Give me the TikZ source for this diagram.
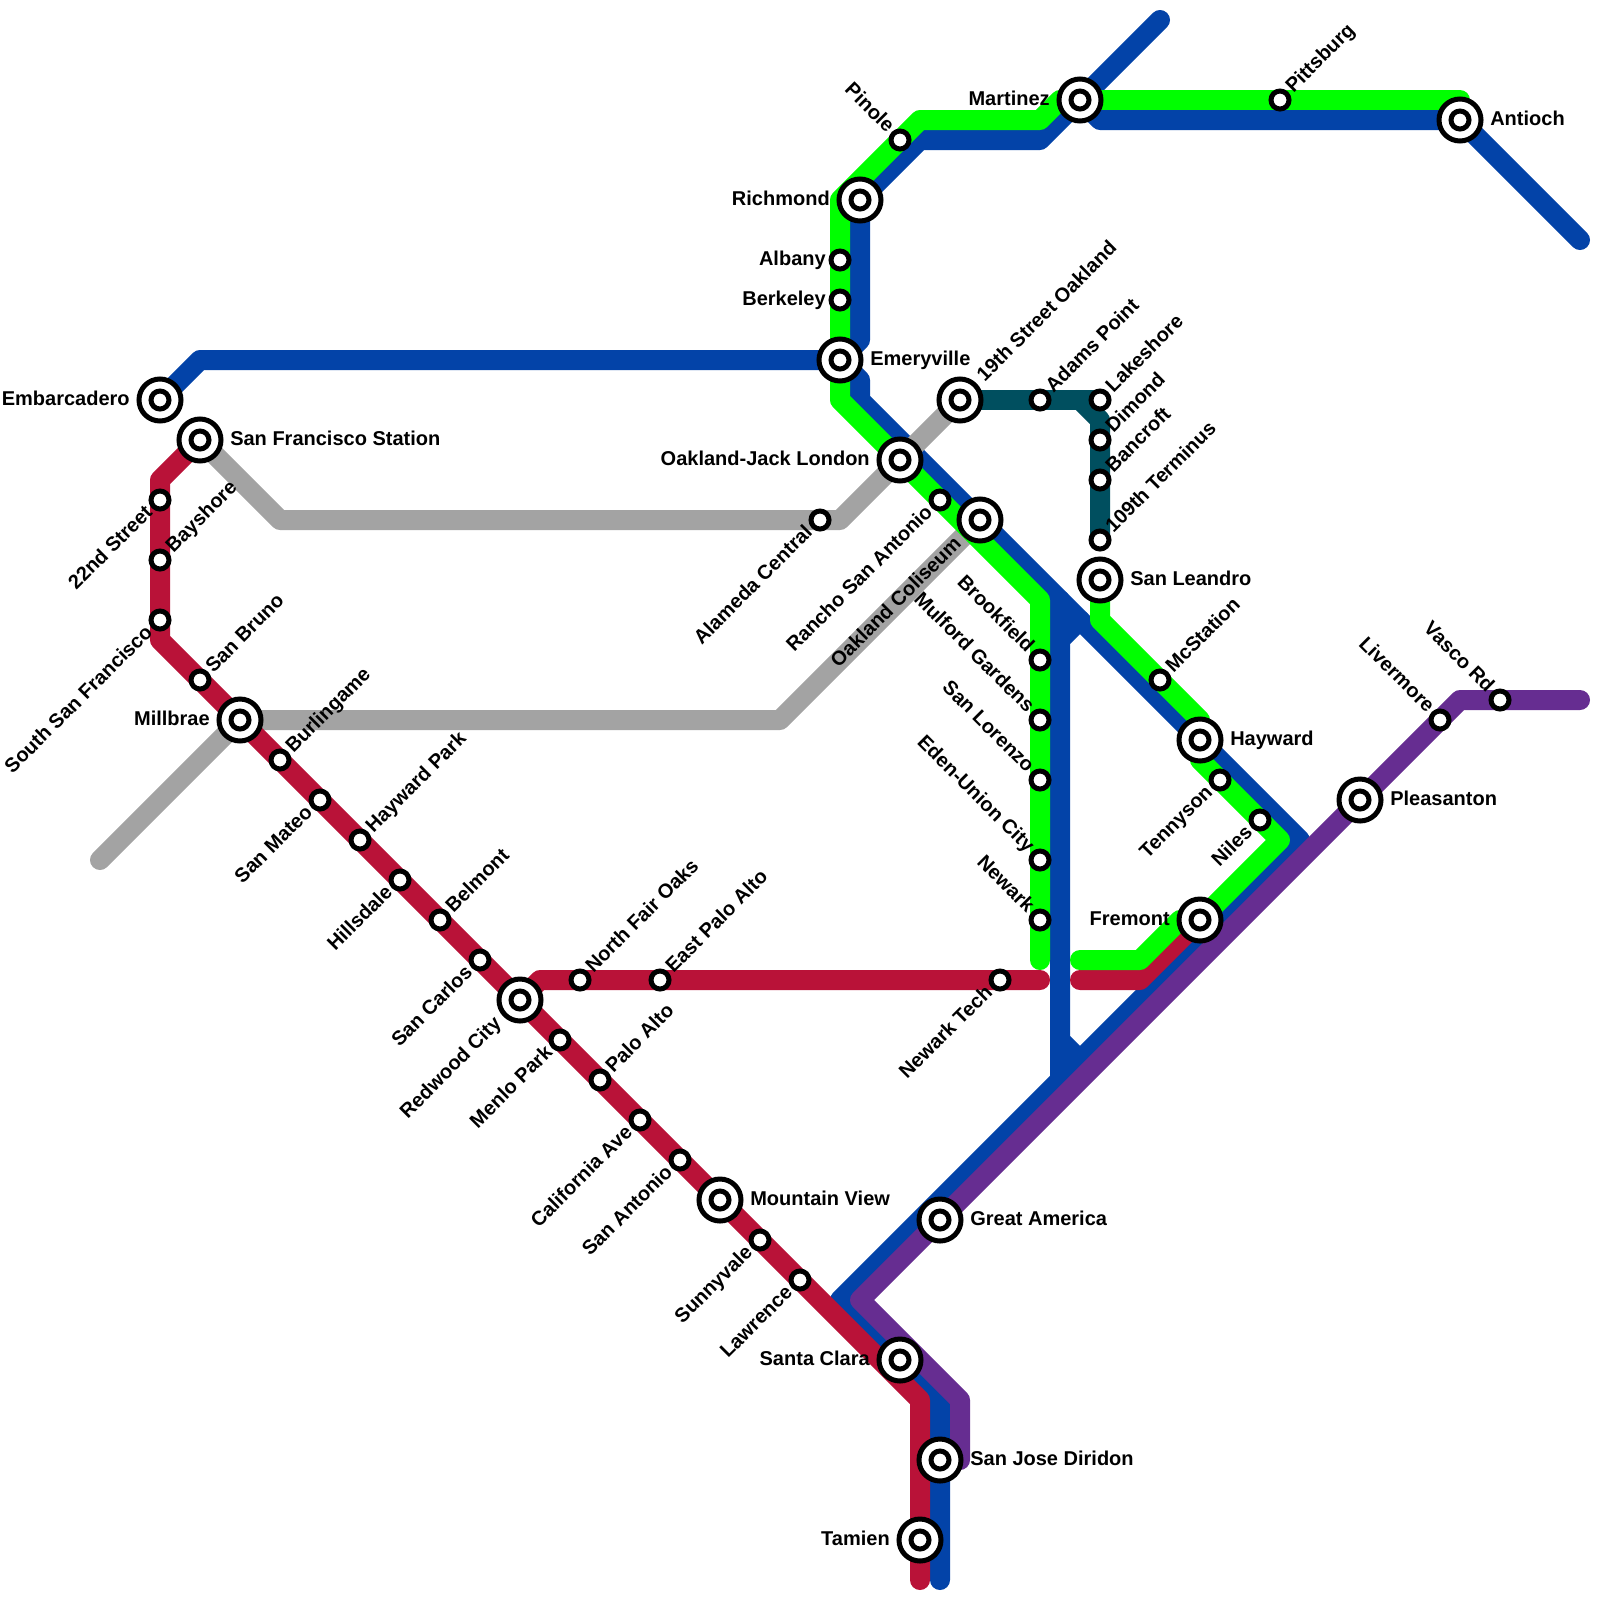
\documentclass[tikz,border=0pt]{standalone}
\usepackage{fontspec}
\setmainfont{Liberation Sans}
\usetikzlibrary{backgrounds}

\definecolor{lineblue}{HTML}{0343A8}
\definecolor{linegray}{HTML}{A3A3A3}
\definecolor{linered}{HTML}{B91238}
\definecolor{linegreen}{HTML}{00FF00}
\definecolor{linepurple}{HTML}{662D91}
\definecolor{lineteal}{HTML}{004F5F}

\newcommand{\namefont}{\fontsize{14.23pt}{17pt}\selectfont\bfseries}

\begin{document}
\begin{tikzpicture}[
    x=0.5cm,
    y=-0.5cm,
    every node/.style={inner sep=0pt,font=\namefont},
    route/.style={line width=0.5cm,line cap=round,line join=round},
    stop/.style={circle,draw=black,fill=white,line width=0.125cm,minimum size=0.45cm},
    bigstop/.style={circle,draw=black,fill=white,line width=0.125cm,minimum size=1.05cm,label={[stop]center:}},
    nameright/.style={anchor=base west,xshift=0.75cm,yshift=-0.125cm},
    nameleft/.style={anchor=base east,xshift=-0.75cm,yshift=-0.125cm},
    stopleft/.style={anchor=base east,xshift=-0.35cm,yshift=-0.125cm},
    namene/.style={rotate=45,anchor=base west,xshift=0.35cm,yshift=-0.125cm},
    namesw/.style={rotate=45,anchor=base east,xshift=-0.35cm,yshift=-0.125cm},
    bigsw/.style={rotate=45,anchor=base east,xshift=-0.75cm,yshift=-0.125cm},
    bigne/.style={rotate=45,anchor=base west,xshift=0.75cm,yshift=-0.125cm},
    namenw/.style={rotate=-45,anchor=base east,xshift=-0.35cm,yshift=-0.125cm}
]
\useasboundingbox (0,0) rectangle (80,80);


% Peninsula
\node[bigstop] (embarcadero) at (8,20) {};
\node[nameleft] (nembarcadero) at (embarcadero) {Embarcadero};
\node[bigstop] (sfstation) at (10,22) {};
\node[nameright] (nsfstation) at (sfstation) {San Francisco Station};
\node[stop] (street22) at (8,25) {};
\node[namesw] (nstreet22) at (street22) {22nd Street};
\node[stop] (bayshore) at (8,28) {};
\node[namene] (nbayshore) at (bayshore) {Bayshore};
\node[stop] (southsf) at (8,31) {};
\node[namesw] (nsouthsf) at (southsf) {South San Francisco};
\node[stop] (sanbruno) at (10,34) {};
\node[namene] (nsanbruno) at (sanbruno) {San Bruno};
\node[bigstop] (millbrae) at (12,36) {};
\node[nameleft] (nmillbrae) at (millbrae) {Millbrae};
\node[stop] (burlingame) at (14,38) {};
\node[namene] (nburlingame) at (burlingame) {Burlingame};
\node[stop] (sanmateo) at (16,40) {};
\node[namesw] (nsanmateo) at (sanmateo) {San Mateo};
\node[stop] (haywardpark) at (18,42) {};
\node[namene] (nhaywardpark) at (haywardpark) {Hayward Park};
\node[stop] (hillsdale) at (20,44) {};
\node[namesw] (nhillsdale) at (hillsdale) {Hillsdale};
\node[stop] (belmont) at (22,46) {};
\node[namene] (nbelmont) at (belmont) {Belmont};
\node[stop] (sancarlos) at (24,48) {};
\node[namesw] (nsancarlos) at (sancarlos) {San Carlos};
\node[bigstop] (redwood) at (26,50) {};
\node[bigsw] (nredwood) at (redwood) {Redwood City};
\node[stop] (menlopark) at (28,52) {};
\node[namesw] (nmenlopark) at (menlopark) {Menlo Park};
\node[stop] (paloalto) at (30,54) {};
\node[namene] (npaloalto) at (paloalto) {Palo Alto};
\node[stop] (californiaave) at (32,56) {};
\node[namesw] (ncaliforniaave) at (californiaave) {California Ave};
\node[stop] (sanantonio) at (34,58) {};
\node[namesw] (nsanantonio) at (sanantonio) {San Antonio};
\node[bigstop] (mountainview) at (36,60) {};
\node[nameright] (nmountainview) at (mountainview) {Mountain View};
\node[stop] (sunnyvale) at (38,62) {};
\node[namesw] (nsunnyvale) at (sunnyvale) {Sunnyvale};
\node[stop] (lawrence) at (40,64) {};
\node[namesw] (nlawrence) at (lawrence) {Lawrence};
\node[bigstop] (santaclara) at (45,68) {};
\node[nameleft] (nsantaclara) at (santaclara) {Santa Clara};
\node[bigstop] (diridon) at (47,73) {};
\node[nameright] (ndiridon) at (diridon) {San Jose Diridon};
\node[bigstop] (tamien) at (46,77) {};
\node[nameleft] (ntamien) at (tamien) {Tamien};
\node[bigstop] (greatamerica) at (47,61) {};
\node[nameright] (ngreatamerica) at (greatamerica) {Great America};


% Cross line
\node[stop] (northfair) at (29,49) {};
\node[namene] (nnorthfair) at (northfair) {North Fair Oaks};
\node[stop] (eastpalo) at (33,49) {};
\node[namene] (neastpalo) at (eastpalo) {East Palo Alto};
\node[stop] (newarktech) at (50,49) {};
\node[namesw] (nnewarktech) at (newarktech) {Newark Tech};
\node[bigstop] (fremont) at (60,46) {};
\node[nameleft] (nfremont) at (fremont) {Fremont};


% North
\node[bigstop] (emeryville) at (42,18) {};
\node[nameright] (nemeryville) at (emeryville) {Emeryville};
\node[stop] (berkeley) at (42,15) {};
\node[stopleft] (nberkeley) at (berkeley) {Berkeley};
\node[stop] (albany) at (42,13) {};
\node[stopleft] (nalbany) at (albany) {Albany};
\node[bigstop] (richmond) at (43,10) {};
\node[nameleft] (nrichmond) at (richmond) {Richmond};
\node[stop] (pinole) at (45,7) {};
\node[namenw] (npinole) at (pinole) {Pinole};
\node[bigstop] (martinez) at (54,5) {};
\node[nameleft] (nmartinez) at (martinez) {Martinez};
\node[stop] (pittsburg) at (64,5) {};
\node[namene] (npittsburg) at (pittsburg) {Pittsburg};
\node[bigstop] (antioch) at (73,6) {};
\node[nameright] (nantioch) at (antioch) {Antioch};


% Oakland
\node[bigstop] (jacklondon) at (45,23) {};
\node[nameleft] (njacklondon) at (jacklondon) {Oakland-Jack London};
\node[stop] (alameda) at (41,26) {};
\node[namesw] (nalameda) at (alameda) {Alameda Central};
\node[stop] (rancho) at (47,25) {};
\node[namesw] (nrancho) at (rancho) {Rancho San Antonio};
\node[bigstop] (coliseum) at (49,26) {};
\node[bigsw] (ncoliseum) at (coliseum) {Oakland Coliseum};
\node[bigstop] (street19) at (48,20) {};
\node[bigne] (nstreet19) at (street19) {19th Street Oakland};
\node[stop] (adams) at (52,20) {};
\node[namene] (nadams) at (adams) {Adams Point};
\node[stop] (lakeshore) at (55,20) {};
\node[namene] (nlakeshore) at (lakeshore) {Lakeshore};
\node[stop] (dimond) at (55,22) {};
\node[namene] (ndimond) at (dimond) {Dimond};
\node[stop] (bancroft) at (55,24) {};
\node[namene] (nbancroft) at (bancroft) {Bancroft};
\node[stop] (terminus) at (55,27) {};
\node[namene] (nterminus) at (terminus) {109th Terminus};
\node[bigstop] (sanleandro) at (55,29) {};
\node[nameright] (nsanleandro) at (sanleandro) {San Leandro};


% East Bay
\node[stop] (brookfield) at (52,33) {};
\node[namenw] (nbrookfield) at (brookfield) {Brookfield};
\node[stop] (mulford) at (52,36) {};
\node[namenw] (nmulford) at (mulford) {Mulford Gardens};
\node[stop] (sanlorenzo) at (52,39) {};
\node[namenw] (nsanlorenzo) at (sanlorenzo) {San Lorenzo};
\node[stop] (edenunion) at (52,43) {};
\node[namenw] (nedenunion) at (edenunion) {Eden-Union City};
\node[stop] (newark) at (52,46) {};
\node[namenw] (nnewark) at (newark) {Newark};
\node[stop] (mcstation) at (58,34) {};
\node[namene] (nmcstation) at (mcstation) {McStation};
\node[bigstop] (hayward) at (60,37) {};
\node[nameright] (nhayward) at (hayward) {Hayward};
\node[stop] (tennyson) at (61,39) {};
\node[namesw] (ntennyson) at (tennyson) {Tennyson};
\node[stop] (niles) at (63,41) {};
\node[namesw] (nniles) at (niles) {Niles};
\node[bigstop] (pleasanton) at (68,40) {};
\node[nameright] (npleasanton) at (pleasanton) {Pleasanton};
\node[stop] (livermore) at (72,36) {};
\node[namenw] (nlivermore) at (livermore) {Livermore};
\node[stop] (vasco) at (75,35) {};
\node[namenw] (nvasco) at (vasco) {Vasco Rd};


% Bends and line ends
\coordinate (ba) at (58,1);
\coordinate (bb) at (52,7);
\coordinate (bc) at (46,7);
\coordinate (bd) at (43,17);
\coordinate (be) at (10,18);
\coordinate (bf) at (43,19);
\coordinate (bg) at (43,20);
\coordinate (bh) at (53,30);
\coordinate (bi) at (65,42);
\coordinate (bj) at (53,54);
\coordinate (bk) at (42,65);
\coordinate (bl) at (47,70);
\coordinate (bm) at (47,79);
\coordinate (bn) at (55,6);
\coordinate (bo) at (79,12);
\coordinate (bp) at (54,31);
\coordinate (bq) at (53,32);
\coordinate (br) at (53,52);
\coordinate (bs) at (54,53);
\coordinate (ga) at (14,26);
\coordinate (gb) at (42,26);
\coordinate (gc) at (39,36);
\coordinate (gd) at (5,43);
\coordinate (ra) at (8,24);
\coordinate (rb) at (8,32);
\coordinate (rc) at (46,70);
\coordinate (rd) at (46,79);
\coordinate (re) at (27,49);
\coordinate (rf) at (52,49);
\coordinate (rg) at (54,49);
\coordinate (rh) at (57,49);
\coordinate (ea) at (42,20);
\coordinate (eb) at (42,10);
\coordinate (ec) at (46,6);
\coordinate (ed) at (52,6);
\coordinate (ee) at (53,5);
\coordinate (ef) at (73,5);
\coordinate (eg) at (52,30);
\coordinate (eh) at (52,48);
\coordinate (ei) at (55,31);
\coordinate (ej) at (60,36);
\coordinate (ek) at (60,38);
\coordinate (el) at (64,42);
\coordinate (em) at (59,46);
\coordinate (en) at (57,48);
\coordinate (eo) at (54,48);
\coordinate (pa) at (48,70);
\coordinate (pb) at (48,73);
\coordinate (pc) at (43,65);
\coordinate (pd) at (73,35);
\coordinate (pe) at (79,35);
\coordinate (ta) at (54,20);
\coordinate (tb) at (55,21);


\begin{scope}[on background layer]

% Blue
\draw[route,lineblue] (ba) -- (martinez.center) -- (bb) -- (bc) -- (richmond.center) -- (bd) -- (emeryville.center) -- (be) -- (embarcadero.center);
\draw[route,lineblue] (emeryville.center) -- (bf) -- (bg) -- (coliseum.center) -- (bh) -- (hayward.center) -- (bi) -- (bj) -- (bk) -- (santaclara.center) -- (bl) -- (diridon.center) -- (bm);
\draw[route,lineblue] (martinez.center) -- (bn) -- (antioch.center) -- (bo);
\draw[route,lineblue] (bh) -- (bj);
\draw[route,lineblue] (bp) -- (bq) -- (br) -- (bs);

% Gray
\draw[route,linegray] (sfstation.center) -- (ga) -- (alameda.center) -- (gb) -- (street19.center);
\draw[route,linegray] (coliseum.center) -- (gc) -- (millbrae.center) -- (gd);

% Red
\draw[route,linered] (sfstation.center) -- (ra) -- (street22.center) -- (bayshore.center) -- (southsf.center) -- (rb) -- (sanbruno.center) -- (millbrae.center) -- (burlingame.center) -- (sanmateo.center) -- (haywardpark.center) -- (hillsdale.center) -- (belmont.center) -- (sancarlos.center) -- (redwood.center) -- (menlopark.center) -- (paloalto.center) -- (californiaave.center) -- (sanantonio.center) -- (mountainview.center) -- (sunnyvale.center) -- (lawrence.center) -- (rc) -- (tamien.center) -- (rd);
\draw[route,linered] (redwood.center) -- (re) -- (northfair.center) -- (eastpalo.center) -- (newarktech.center) -- (rf);
\draw[route,linered] (rg) -- (rh) -- (fremont.center);

% Green
\draw[route,linegreen] (martinez.center) -- (ee) -- (ed) -- (ec) -- (pinole.center) -- (eb) -- (albany.center) -- (berkeley.center) -- (emeryville.center) -- (ea) -- (jacklondon.center) -- (rancho.center) -- (eg) -- (brookfield.center) -- (mulford.center) -- (sanlorenzo.center) -- (edenunion.center) -- (newark.center) -- (eh);
\draw[route,linegreen] (martinez.center) -- (pittsburg.center) -- (ef) -- (antioch.center);
\draw[route,linegreen] (sanleandro.center) -- (ei) -- (mcstation.center) -- (ej) -- (ek) -- (tennyson.center) -- (niles.center) -- (el) -- (fremont.center) -- (em) -- (en) -- (eo);

% Purple
\draw[route,linepurple] (pb) -- (pa) -- (pc) -- (greatamerica.center) -- (pleasanton.center) -- (livermore.center) -- (pd) -- (vasco.center) -- (pe);

% Teal
\draw[route,lineteal] (street19.center) -- (adams.center) -- (lakeshore.center);
\draw[route,lineteal] (ta) -- (tb) -- (dimond.center) -- (bancroft.center) -- (terminus.center);

\end{scope}
\end{tikzpicture}
\end{document}
